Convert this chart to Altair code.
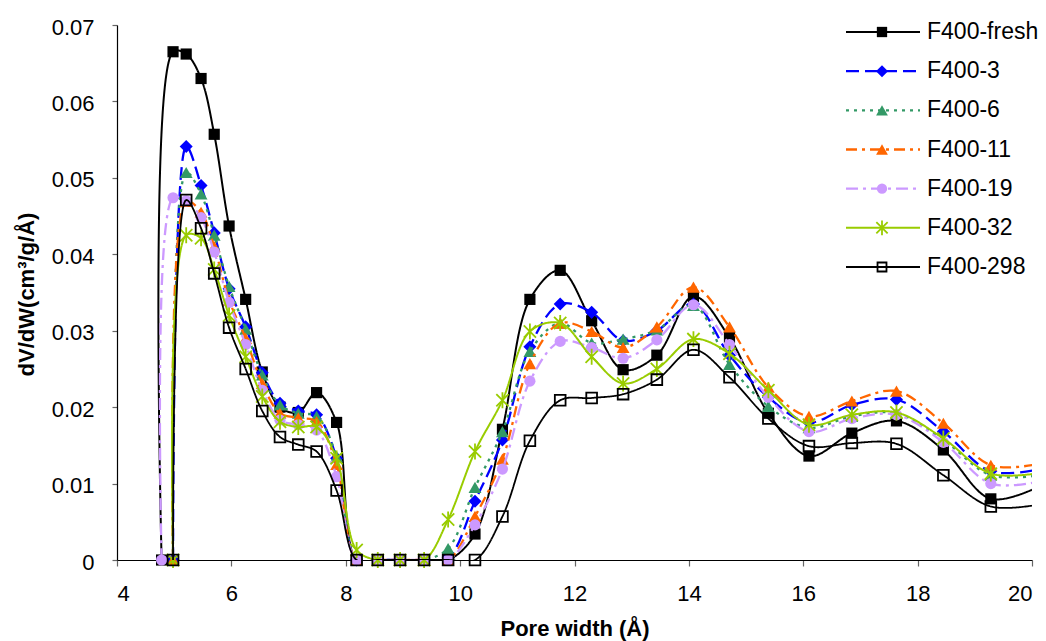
import altair as alt
import pandas as pd

# ---------------- data ----------------
pore_width = [4.78, 4.98, 5.21, 5.47, 5.70, 5.96, 6.25, 6.54, 6.85, 7.17, 7.49, 7.84,
              8.19, 8.56, 8.95, 9.37, 9.79, 10.26, 10.74, 11.22, 11.75, 12.30, 12.85,
              13.44, 14.08, 14.71, 15.39, 16.10, 16.85, 17.63, 18.45, 19.28, 20.15]

series_names = ["F400-fresh", "F400-3", "F400-6", "F400-11", "F400-19", "F400-32", "F400-298"]

f400_fresh = [0, 0.0665, 0.0662, 0.0630, 0.0557, 0.0437, 0.0341, 0.0246, 0.0200, 0.0193, 0.0219, 0.0180,
              0, 0, 0, 0, 0, 0.0034, 0.0171, 0.0341, 0.0379, 0.0313, 0.0249,
              0.0268, 0.0345, 0.0291, 0.0192, 0.0136, 0.0166, 0.0182, 0.0144, 0.0080, 0.0097]
f400_3 = [None, 0, 0.0541, 0.0490, 0.0428, 0.0355, 0.0305, 0.0245, 0.0205, 0.0195, 0.0190, 0.0133,
          0, 0, 0, 0, 0.0003, 0.0077, 0.0157, 0.0279, 0.0335, 0.0324, 0.0287,
          0.0300, 0.0335, 0.0268, 0.0213, 0.0180, 0.0203, 0.0210, 0.0168, 0.0116, 0.0119]
f400_6 = [None, 0, 0.0507, 0.0479, 0.0425, 0.0358, 0.0302, 0.0242, 0.0203, 0.0192, 0.0188, 0.0135,
          0, 0, 0, 0, 0.0015, 0.0095, 0.0168, 0.0273, 0.0310, 0.0284, 0.0289,
          0.0301, 0.0333, 0.0256, 0.0201, 0.0173, 0.0188, 0.0192, 0.0157, 0.0111, 0.0111]
f400_11 = [None, 0, 0.0469, 0.0455, 0.0410, 0.0340, 0.0290, 0.0231, 0.0192, 0.0186, 0.0181, 0.0125,
           0, 0, 0, 0, 0, 0.0057, 0.0132, 0.0257, 0.0310, 0.0299, 0.0278,
           0.0305, 0.0357, 0.0305, 0.0226, 0.0188, 0.0208, 0.0221, 0.0179, 0.0124, 0.0126]
f400_19 = [0, 0.0474, 0.0470, 0.0448, 0.0403, 0.0337, 0.0282, 0.0222, 0.0183, 0.0177, 0.0170, 0.0109,
           0, 0, 0, 0, 0, 0.0046, 0.0119, 0.0234, 0.0286, 0.0278, 0.0264,
           0.0288, 0.0334, 0.0282, 0.0213, 0.0168, 0.0185, 0.0190, 0.0154, 0.0100, 0.0103]
f400_32 = [None, 0, 0.0425, 0.0421, 0.0380, 0.0320, 0.0266, 0.0214, 0.0181, 0.0174, 0.0174, 0.0133,
           0.0013, 0, 0, 0, 0.0053, 0.0142, 0.0209, 0.0299, 0.0310, 0.0266, 0.0231,
           0.0250, 0.0289, 0.0270, 0.0222, 0.0177, 0.0190, 0.0193, 0.0159, 0.0113, 0.0114]
f400_298 = [None, 0, 0.0471, 0.0434, 0.0375, 0.0304, 0.0250, 0.0195, 0.0161, 0.0151, 0.0142, 0.0091,
            0, 0, 0, 0, 0, 0, 0.0057, 0.0156, 0.0209, 0.0212, 0.0217,
            0.0236, 0.0275, 0.0239, 0.0185, 0.0149, 0.0153, 0.0152, 0.0111, 0.0070, 0.0073]

x_ticks = [4, 6, 8, 10, 12, 14, 16, 18, 20]
y_ticks = [0, 0.01, 0.02, 0.03, 0.04, 0.05, 0.06, 0.07]

# ---------------- styles ----------------
STAR = "M-1,-1L1,1M-1,1L1,-1M0,-1.3L0,1.3"
styles = {
    "F400-fresh": dict(color="#000000", dash=[1, 0], shape="square", filled=True, size=125, lw=2.0),
    "F400-3": dict(color="#0000FF", dash=[13, 6], shape="diamond", filled=True, size=170, lw=2.3),
    "F400-6": dict(color="#339966", dash=[3, 5], shape="triangle-up", filled=True, size=165, lw=2.3),
    "F400-11": dict(color="#FF6600", dash=[11, 5, 3, 5], shape="triangle-up", filled=True, size=165, lw=2.3),
    "F400-19": dict(color="#CC99FF", dash=[12, 5, 3, 5], shape="circle", filled=True, size=125, lw=2.3),
    "F400-32": dict(color="#99CC00", dash=[1, 0], shape=STAR, filled=False, size=150, lw=2.0),
    "F400-298": dict(color="#000000", dash=[1, 0], shape="square", filled=False, size=115, lw=1.8),
}
values = [f400_fresh, f400_3, f400_6, f400_11, f400_19, f400_32, f400_298]

FONT = "Liberation Sans"

x_enc = alt.X("w:Q",
              scale=alt.Scale(domain=[4, 20], nice=False, zero=False),
              axis=alt.Axis(values=x_ticks, format="d", title="Pore width (Å)",
                            titleX=457.5, titleY=68, titleBaseline="middle",
                            labelPadding=17, tickSize=6))
y_enc = alt.Y("v:Q",
              scale=alt.Scale(domain=[0, 0.07], nice=False),
              axis=alt.Axis(values=y_ticks, format=".2~f", title="dV/dW(cm³/g/Å)",
                            titleX=-91, titleY=269, titleBaseline="middle",
                            labelPadding=18, tickSize=5, labelOffset=2))

main_layers = []
legend_layers = []
for rank, (name, vals) in enumerate(zip(series_names, values)):
    st = styles[name]
    df = pd.DataFrame({"w": pore_width, "v": vals, "series": name}).dropna()
    line = alt.Chart(df).mark_line(
        interpolate="catmull-rom", color=st["color"], strokeWidth=st["lw"],
        strokeDash=st["dash"], clip=True
    ).encode(x=x_enc, y=y_enc)
    mk = dict(shape=st["shape"], size=st["size"], opacity=1)
    if st["filled"]:
        mk.update(filled=True, color=st["color"], strokeWidth=0)
    else:
        mk.update(filled=False, color=st["color"], strokeWidth=1.8)
    pts = alt.Chart(df).transform_filter("datum.w <= 20").mark_point(**mk).encode(x=x_enc, y=y_enc)
    main_layers += [line, pts]

    # legend entry
    ldf = pd.DataFrame({"series": [name], "rank": [rank]})
    ly = alt.Y("rank:Q", scale=alt.Scale(domain=[0, 6], range=[7, 242]), axis=None)
    lrule = alt.Chart(ldf).mark_rule(color=st["color"], strokeWidth=st["lw"],
                                     strokeDash=st["dash"]).encode(
        x=alt.value(729), x2=alt.value(803), y=ly)
    lmk = dict(mk)
    lmk["size"] = st["size"] * (0.7 if name == "F400-298" else 0.85)
    lpt = alt.Chart(ldf).mark_point(**lmk).encode(x=alt.value(765), y=ly)
    ltxt = alt.Chart(ldf).mark_text(align="left", baseline="middle", fontSize=23,
                                    font=FONT, color="#000000").encode(
        x=alt.value(810), y=ly, text="series:N")
    legend_layers += [lrule, lpt, ltxt]

main = alt.layer(*main_layers)
legend = alt.layer(*legend_layers)

chart = alt.layer(main, legend).resolve_scale(y="independent").properties(
    width=915, height=535,
    autosize=alt.AutoSizeParams(type="none"),
    padding={"left": 109, "top": 17, "right": 6, "bottom": 81},
).configure_view(stroke=None).configure_axis(
    grid=False,
    labelFont=FONT, labelFontSize=22, labelColor="#000000",
    titleFont=FONT, titleFontSize=22, titleFontWeight="bold", titleColor="#000000",
    domainColor="#000000", domainWidth=1.2, tickColor="#666666", tickWidth=1.2,
)

chart.save("out.html", embed_options={"renderer": "svg", "actions": False})
